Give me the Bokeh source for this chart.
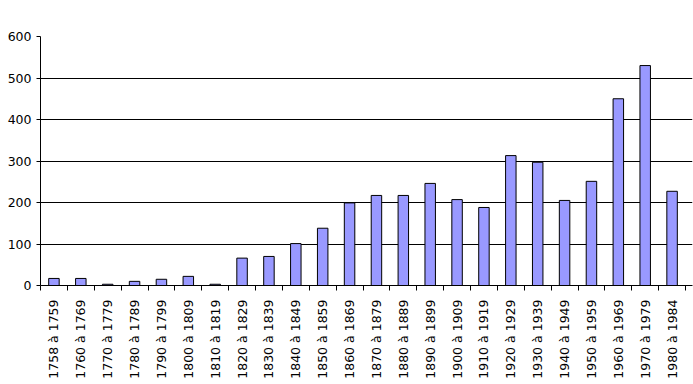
from bokeh.plotting import figure
from bokeh.models import FixedTicker, Range1d, ColumnDataSource
from bokeh.embed import file_html
from bokeh.resources import INLINE

categories = ["1758 à 1759", "1760 à 1769", "1770 à 1779", "1780 à 1789", "1790 à 1799",
              "1800 à 1809", "1810 à 1819", "1820 à 1829", "1830 à 1839", "1840 à 1849",
              "1850 à 1859", "1860 à 1869", "1870 à 1879", "1880 à 1889", "1890 à 1899",
              "1900 à 1909", "1910 à 1919", "1920 à 1929", "1930 à 1939", "1940 à 1949",
              "1950 à 1959", "1960 à 1969", "1970 à 1979", "1980 à 1984"]
values = [17, 17, 3, 10, 15, 22, 3, 66, 70, 101, 138, 199, 217, 217, 246,
          207, 188, 313, 297, 205, 251, 450, 530, 227]
y_ticks = [0, 100, 200, 300, 400, 500, 600]

n = len(categories)
centers = [i + 0.5 for i in range(n)]
src = ColumnDataSource(dict(x=centers, top=values))

p = figure(width=693, height=384, output_backend="svg", toolbar_location=None,
           x_range=Range1d(0, n + 0.26), y_range=Range1d(0, 600),
           min_border_left=40, min_border_right=1, min_border_top=36, min_border_bottom=99)
p.outline_line_color = None
p.background_fill_color = "white"
p.border_fill_color = "white"

p.vbar(x="x", top="top", width=0.39, source=src, fill_color="#9999FF",
       line_color="black", line_width=1)

font = "DejaVu Sans"
p.xaxis.ticker = FixedTicker(ticks=centers, minor_ticks=list(range(n + 1)))
p.xaxis.major_label_overrides = {c: lab for c, lab in zip(centers, categories)}
p.xaxis.major_label_orientation = 1.5707963
p.xaxis.major_tick_out = 0
p.xaxis.major_tick_in = 0
p.xaxis.minor_tick_out = 5
p.xaxis.minor_tick_in = 0
p.xaxis.minor_tick_line_color = "black"
p.xaxis.major_label_standoff = 9
p.xaxis.axis_line_color = "black"
p.xaxis.major_label_text_font = font
p.xaxis.major_label_text_font_size = "12.5px"
p.xaxis.major_label_text_color = "black"

p.yaxis.ticker = FixedTicker(ticks=y_ticks)
p.yaxis.major_tick_out = 4
p.yaxis.major_tick_in = 0
p.yaxis.minor_tick_line_color = None
p.yaxis.major_label_standoff = 5
p.yaxis.axis_line_color = "black"
p.yaxis.major_tick_line_color = "black"
p.yaxis.major_label_text_font = font
p.yaxis.major_label_text_font_size = "12.5px"
p.yaxis.major_label_text_color = "black"

p.xgrid.grid_line_color = None
p.ygrid.grid_line_color = "black"
p.ygrid.grid_line_alpha = 1.0
p.ygrid.ticker = FixedTicker(ticks=y_ticks)

open("out.html", "w").write(file_html(p, INLINE))
